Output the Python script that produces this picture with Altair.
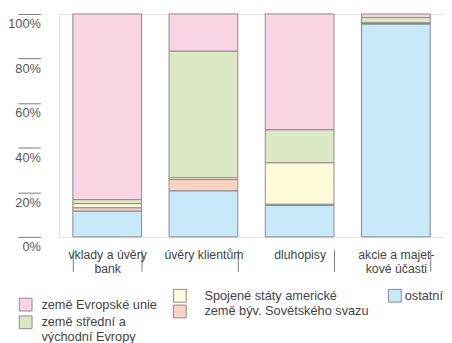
import altair as alt
import pandas as pd

categories = ["vklady a úvěry\nbank", "úvěry klientům", "dluhopisy", "akcie a majet-\nkové účasti"]
series = ["země Evropské unie", "země střední a\nvýchodní Evropy", "Spojené státy americké",
          "země býv. Sovětského svazu", "ostatní"]
colors = ["#F8D4E5", "#DBE8C3", "#FFFAD8", "#FCD3C2", "#C8E9F9"]
stack_order = [4, 3, 2, 1, 0]

eu = [83.3, 16.7, 52.0, 1.6]
sve = [1.8, 56.8, 14.8, 2.4]
usa = [1.9, 0.8, 18.6, 0.3]
sssr = [1.5, 5.1, 0.5, 0.3]
ost = [11.5, 20.6, 14.1, 95.4]
values = [eu, sve, usa, sssr, ost]

rows = []
for s, vals, o in zip(series, values, stack_order):
    for c, v in zip(categories, vals):
        rows.append({"category": c, "series": s, "value": v, "ord": o})
df = pd.DataFrame(rows)

FONT = "Liberation Sans"
# (series indices, legendX, legendY, labelOffset, rowPadding)
groups = [
    ([0, 1], -41, 289, 9, 0),
    ([2, 3], 116, 280, 18, -4),
    ([4], 335, 280, 3, 0),
]

xax = alt.Axis(title=None, orient="bottom", offset=13, tickBand="extent", tickSize=22,
               tickColor="#777", domain=False, labelAngle=0, labelBaseline="top",
               labelPadding=-23, labelLineHeight=14, labelFontSize=12.5, labelFont=FONT,
               labelColor="#444", labelOverlap=False,
               labelExpr="split(datum.label, '\\n')")
yax = alt.Axis(title=None, orient="left", offset=19, tickSize=23, tickColor="#777",
               domain=False, grid=False, values=[0, 20, 40, 60, 80, 100],
               labelExpr="datum.value + '%'", labelAlign="right", labelPadding=-23,
               labelBaseline="top", labelOffset=4, labelFontSize=13, labelFont=FONT,
               labelColor="#555")

base = alt.Chart(df).transform_stack(
    stack="value", groupby=["category"], sort=[alt.SortField("ord", order="ascending")],
    as_=["y0", "y1"])

layers = []
for idx, lx, ly, loff, rpad in groups:
    dom = [series[i] for i in idx]
    rng = [colors[i] for i in idx]
    layers.append(
        base.transform_filter(alt.FieldOneOfPredicate(field="series", oneOf=dom))
        .mark_bar(stroke="#8a8a8a", strokeWidth=1)
        .encode(
            x=alt.X("category:N", sort=categories,
                    scale=alt.Scale(paddingInner=0.2857, paddingOuter=0.143), axis=xax),
            y=alt.Y("y0:Q", scale=alt.Scale(domain=[0, 100], nice=False), axis=yax),
            y2="y1:Q",
            color=alt.Color("series:N", scale=alt.Scale(domain=dom, range=rng),
                            legend=alt.Legend(title=None, orient="none", legendX=lx, legendY=ly,
                                              symbolType="square", symbolSize=169,
                                              symbolStrokeColor="#8a8a8a", symbolStrokeWidth=1,
                                              labelFont=FONT, labelFontSize=13, labelColor="#444",
                                              labelOffset=loff, rowPadding=rpad, padding=0,
                                              labelLimit=300, labelBaseline="middle",
                                              labelExpr="split(datum.label, '\\n')")),
        )
    )

chart = alt.layer(*layers).resolve_scale(color="independent").properties(
    width=392, height=227,
    autosize=alt.AutoSizeParams(type="none"),
    padding={"left": 52, "top": 3, "right": 0, "bottom": 105},
).configure_view(stroke=None).configure(background="white")

chart.save("out.html", embed_options={"renderer": "svg", "actions": False})
